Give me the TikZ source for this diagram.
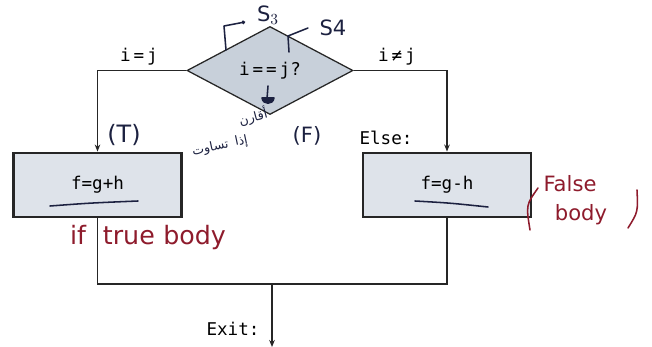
\documentclass[tikz,border=0pt]{standalone}
\usepackage{fontspec}
\setmonofont{DejaVu Sans Mono}
\setsansfont{DejaVu Sans}
\newfontfamily\arabicfont[Script=Arabic]{DejaVu Sans}
\TeXXeTstate=1
\usetikzlibrary{shapes.geometric,arrows.meta,positioning}

\definecolor{condfill}{HTML}{C8D0DA}
\definecolor{boxfill}{HTML}{DEE3EA}
\definecolor{ink}{HTML}{1C2140}
\definecolor{redink}{HTML}{8E1B2C}

\tikzset{
	flow/.style = {line width=0.9pt, draw=black!85},
	decision/.style = {shape=diamond, draw=black!85, line width=0.9pt, fill=condfill,
		minimum width=4.15cm, minimum height=2.2cm, inner sep=0pt, font=\code},
	stmt/.style = {draw=black!85, line width=1.5pt, fill=boxfill,
		minimum width=4.2cm, minimum height=1.62cm, font=\code},
	lbl/.style = {font=\code, inner sep=1pt},
	pen/.style = {draw=ink, line width=1.1pt, line cap=round, line join=round},
	note/.style = {text=ink, font=\sffamily\fontsize{15}{17}\selectfont, inner sep=0pt},
	rednote/.style = {text=redink, font=\sffamily\fontsize{15}{17}\selectfont, inner sep=0pt},
	arnote/.style = {text=ink, font=\arabicfont\fontsize{9}{10}\selectfont, inner sep=0pt}
}
\newcommand{\code}{\ttfamily\fontsize{12.5}{14}\selectfont}

\begin{document}
\begin{tikzpicture}[x=0.025cm, y=-0.025cm, >={Stealth[length=5pt, width=4pt]}]
	\useasboundingbox (0,0) rectangle (652,347);

	% condition and the two bodies
	\node [decision] (cond) at (270,70.5) {i\,=\,=\,j?};
	\node [stmt] (tbody) at (97.5,185) {f=g+h};
	\node [stmt] (fbody) at (447,185) {f=g-h};
	\coordinate (join) at (272,284);
	\coordinate (exit) at (272,347);

	\draw [flow, ->] (cond.west) -| (tbody.north);
	\draw [flow, ->] (cond.east) -| (fbody.north);
	\draw [flow] (tbody.south) |- (fbody.south |- join) -- (fbody.south);
	\draw [flow, ->] (join) -- (exit);

	\node [lbl] (eq) at (139,57) {i\,=\,j};
	\node [lbl] (neq) at (397,57) {i\,≠\,j};
	\node [lbl] (else) at (386,138) {Else:};
	\node [lbl] (exitlbl) at (233,329) {Exit:};

	% notes by hand
	\draw [pen, -{Circle[length=2.5pt]}] (226,50) -- (224,26) -- (245,22);
	\node [note] (s3) at (268,15) {S$_3$};
	\draw [pen] (289,52) -- (288,36) -- (308,28);
	\node [note] (s4) at (333,28) {S4};
	\draw [pen] (268,86) -- (267,99);
	\draw [pen, fill=ink] (262,98) .. controls (263,105) and (273,105) .. (274,98) -- cycle;
	\node [arnote, rotate=15] (ar1) at (253,117) {\beginR أقارن\endR};
	%\node [arnote, rotate=20] (ar2) at (222,143) {\beginR إذا تساوت\endR};
	\node [arnote, rotate=12] (ar2) at (220,146) {\beginR إذا\hspace{5pt}تساوت\endR};
	\node [note, font=\sffamily\fontsize{17}{19}\selectfont] (t) at (124,135) {(T)};
	\node [note] (f) at (307,136) {(F)};
	\draw [pen] (50,206) .. controls (90,203) .. (138,201);
	\draw [pen] (415,201) .. controls (450,203) .. (488,207);
	\node [rednote, font=\sffamily\fontsize{18}{20}\selectfont] (truebody) at (148,238) {if\hspace{12pt}true\hspace{6pt}body};
	\node [rednote] (false) at (570,184) {False};
	\node [rednote] (body) at (581,215) {body};
	\draw [draw=redink, line width=1.1pt, line cap=round] (538,188) .. controls (526,205) .. (530,230);
	\draw [draw=redink, line width=1.1pt, line cap=round] (637,190) .. controls (638,212) .. (628,228);
\end{tikzpicture}
\end{document}
